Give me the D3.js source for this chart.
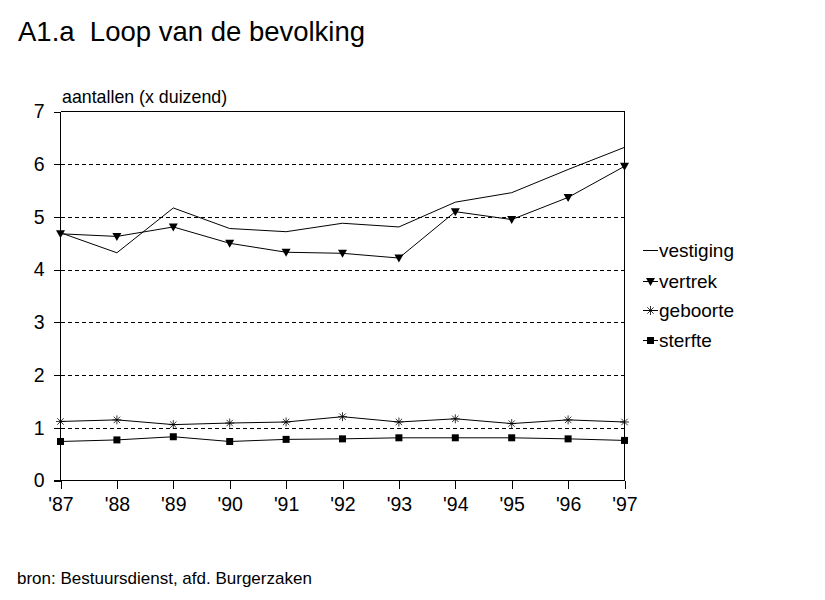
<!DOCTYPE html>
<html><head><meta charset="utf-8">
<script src="https://cdn.jsdelivr.net/npm/d3@7"></script>
<style>
body{margin:0;background:#fff;}
svg{display:block;font-family:"Liberation Sans",Arial,sans-serif;}
text{white-space:pre;}
</style></head>
<body><svg id="c" width="825" height="600"></svg>
<script>
const years = ["'87","'88","'89","'90","'91","'92","'93","'94","'95","'96","'97"];
const vestiging = [4.70, 4.32, 5.17, 4.78, 4.72, 4.88, 4.81, 5.28, 5.46, 5.90, 6.32];
const vertrek   = [4.68, 4.63, 4.81, 4.50, 4.33, 4.31, 4.22, 5.10, 4.95, 5.37, 5.96];
const geboorte  = [1.12, 1.15, 1.06, 1.09, 1.11, 1.21, 1.11, 1.17, 1.08, 1.15, 1.11];
const sterfte   = [0.74, 0.77, 0.83, 0.74, 0.78, 0.79, 0.81, 0.81, 0.81, 0.79, 0.76];
const yTicks = [0,1,2,3,4,5,6,7];
const seriesNames = ["vestiging","vertrek","geboorte","sterfte"];
const seriesMarkers = ["none","triangle","star","square"];
const title = "A1.a  Loop van de bevolking";
const yLabel = "aantallen (x duizend)";
const source = "bron: Bestuursdienst, afd. Burgerzaken";

const svg = d3.select("#c");
const L = 60.5, R = 624.5, T = 111.5, B = 480.5;
const x = d3.scalePoint().domain(years).range([L, R]);
const y = d3.scaleLinear().domain([0, 7]).range([B, T]);

// titles
svg.append("text").attr("x", 18).attr("y", 41).attr("font-size", 27.5).attr("xml:space", "preserve").text(title);
svg.append("text").attr("x", 62).attr("y", 103).attr("font-size", 17.8).text(yLabel);
svg.append("text").attr("x", 17).attr("y", 584).attr("font-size", 17).text(source);

// grid
svg.append("g").selectAll("line").data(yTicks.filter(d => d > 0 && d < 7)).join("line")
  .attr("x1", L).attr("x2", R).attr("y1", d => Math.round(y(d)) + 0.5).attr("y2", d => Math.round(y(d)) + 0.5)
  .attr("stroke", "#000").attr("stroke-dasharray", "4,3").attr("shape-rendering", "crispEdges");

// frame top/right
svg.append("path").attr("d", `M${L},${T}H${R}V${B}`).attr("fill", "none").attr("stroke", "#000")
  .attr("shape-rendering", "crispEdges");

// axes
const yAxis = d3.axisLeft(y).tickValues(yTicks).tickSize(7).tickPadding(9).tickFormat(d3.format("d"));
const gy = svg.append("g").attr("transform", `translate(${L},0)`).call(yAxis);
const xAxis = d3.axisBottom(x).tickSize(8).tickPadding(9);
const gx = svg.append("g").attr("transform", `translate(0,${B})`).call(xAxis);
[gy, gx].forEach(g => {
  g.select(".domain").attr("stroke", "#000").attr("shape-rendering", "crispEdges");
  g.selectAll(".tick line").attr("stroke", "#000").attr("shape-rendering", "crispEdges");
  g.selectAll("text").attr("fill", "#000").attr("font-size", 19.5).attr("font-family", "Liberation Sans, Arial, sans-serif");
});
gy.select(".domain").attr("d", `M-7,${B}H0V${T}`);
gx.select(".domain").attr("d", `M${L},0H${R}`);

const data = [vestiging, vertrek, geboorte, sterfte];
const line = d3.line().x((d, i) => x(years[i])).y(d => y(d));

function drawMarker(g, type, cx, cy) {
  if (type === "triangle") {
    g.append("path").attr("d", `M${cx-4.5},${cy-3.5}L${cx+4.5},${cy-3.5}L${cx},${cy+4.5}Z`).attr("fill", "#000");
  } else if (type === "square") {
    g.append("rect").attr("x", cx - 3.5).attr("y", cy - 3.5).attr("width", 7).attr("height", 7).attr("fill", "#000");
  } else if (type === "star") {
    const s = 4.5;
    g.append("path").attr("d",
      `M${cx-s},${cy}H${cx+s}M${cx},${cy-s}V${cy+s}M${cx-3.2},${cy-3.2}L${cx+3.2},${cy+3.2}M${cx-3.2},${cy+3.2}L${cx+3.2},${cy-3.2}`)
      .attr("stroke", "#000").attr("stroke-width", 0.8).attr("fill", "none");
  }
}

data.forEach((vals, si) => {
  const g = svg.append("g");
  g.append("path").datum(vals).attr("d", line).attr("fill", "none").attr("stroke", "#000").attr("stroke-width", 1);
  vals.forEach((v, i) => drawMarker(g, seriesMarkers[si], x(years[i]), y(v)));
});

// legend
const legY = [250, 281, 310, 340];
seriesNames.forEach((n, i) => {
  const g = svg.append("g");
  g.append("line").attr("x1", 643).attr("x2", 658).attr("y1", legY[i] + 0.5).attr("y2", legY[i] + 0.5)
    .attr("stroke", "#000").attr("shape-rendering", "crispEdges");
  drawMarker(g, seriesMarkers[i], 650.5, legY[i] + 0.5);
  g.append("text").attr("x", 659).attr("y", legY[i] + 7).attr("font-size", 19).text(n);
});
</script></body></html>
